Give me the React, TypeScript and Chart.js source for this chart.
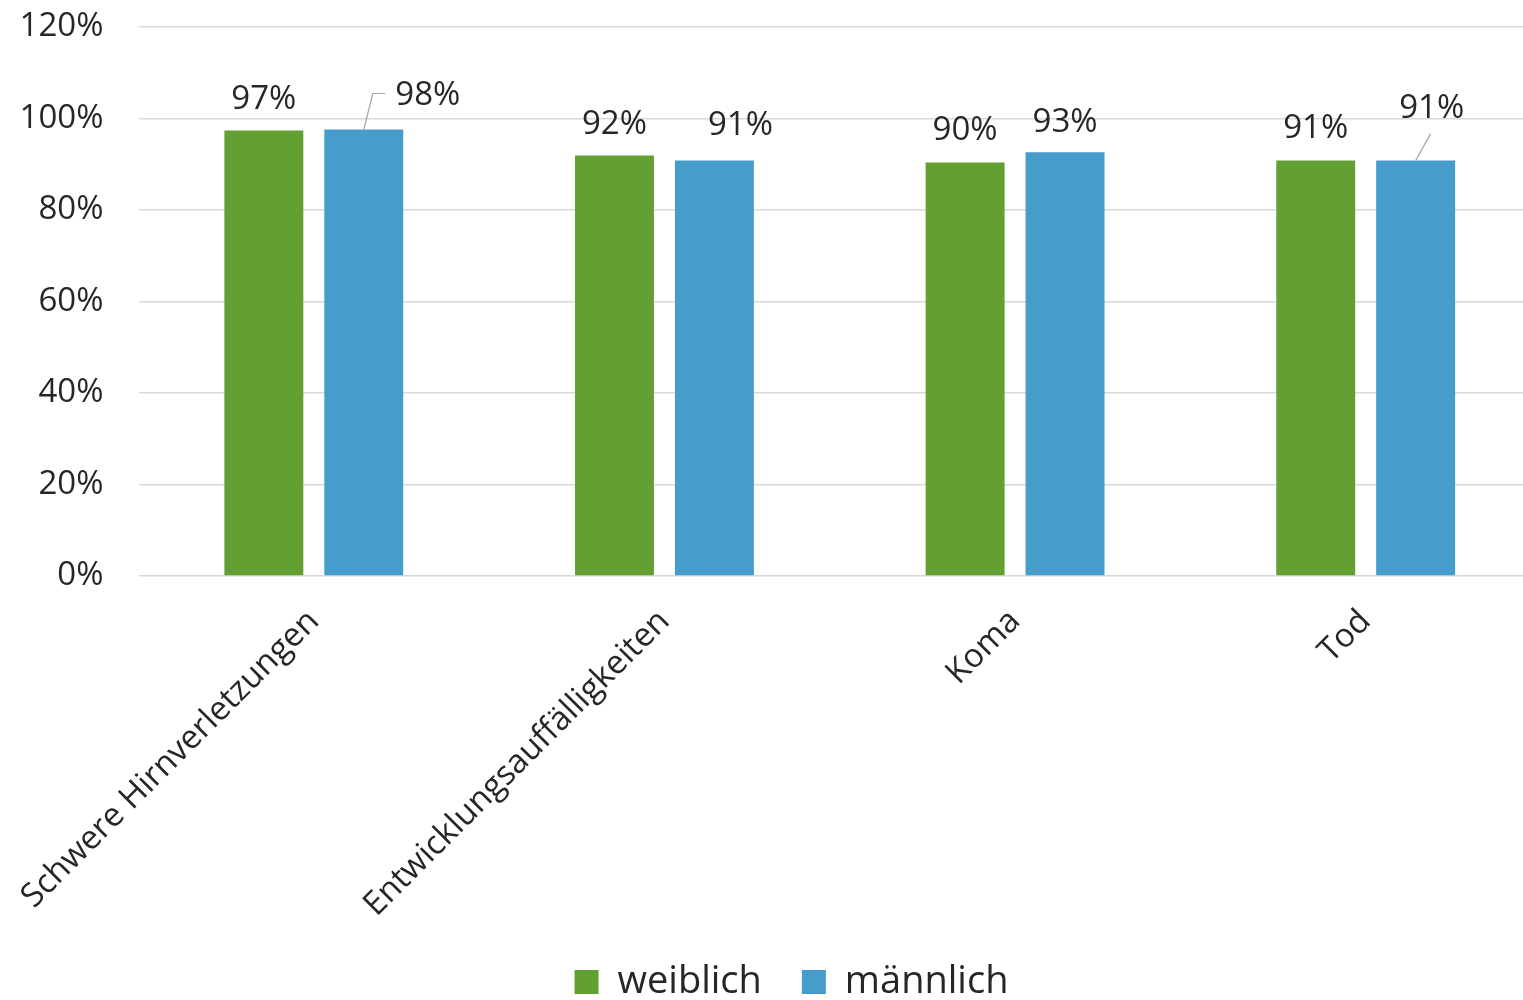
import React, { useEffect, useRef } from "react";
import { Chart, registerables } from "chart.js";

Chart.register(...registerables);

const categories = ["Schwere Hirnverletzungen", "Entwicklungsauffälligkeiten", "Koma", "Tod"];
const weiblich = [97.4, 91.9, 90.4, 90.8];
const maennlich = [97.6, 90.8, 92.6, 90.8];
const seriesNames = ["weiblich", "männlich"];
const yTicks = [0, 20, 40, 60, 80, 100, 120];

const GREEN = "#62a033";
const BLUE = "#469cca";
const TEXT = "#262626";
const FONT = "'Open Sans', 'Noto Sans', sans-serif";

// label placement (style only): offsets from bar top-centre
const labelDx = [
  [0, 0, 0, 0],
  [64, 26, 0, 16],
];
const labelDy = [
  [-31, -31, -32, -32],
  [-34, -35, -30, -52],
];
const leader = [
  [false, false, false, false],
  [true, false, false, true],
];

const labelPlugin = {
  id: "barLabels",
  afterLayout(chart: any) {
    // let rotated category labels run below the axis box, shift legend like the original
    if (chart.scales.x) chart.scales.x.bottom = chart.height;
    if (chart.legend) {
      chart.legend.left += 21;
      chart.legend.right += 21;
    }
  },
  afterDatasetsDraw(chart: any) {
    const ctx = chart.ctx;
    ctx.save();
    ctx.font = `33px ${FONT}`;
    ctx.fillStyle = TEXT;
    ctx.textAlign = "center";
    ctx.textBaseline = "middle";
    chart.data.datasets.forEach((ds: any, di: number) => {
      const meta = chart.getDatasetMeta(di);
      meta.data.forEach((el: any, i: number) => {
        const v = ds.data[i];
        const txt = Math.round(v) + "%";
        const x = el.x + labelDx[di][i];
        const y = el.y + labelDy[di][i];
        if (leader[di][i]) {
          ctx.strokeStyle = "#a6a6a6";
          ctx.lineWidth = 1.2;
          ctx.beginPath();
          if (labelDx[di][i] > 40) {
            const w = ctx.measureText(txt).width;
            const lx = x - w / 2 - 10;
            ctx.moveTo(el.x, el.y);
            ctx.lineTo(el.x + 9, y - 2);
            ctx.lineTo(lx, y - 2);
          } else {
            ctx.moveTo(el.x, el.y);
            ctx.lineTo(el.x + 15, el.y - 27);
          }
          ctx.stroke();
        }
        ctx.fillText(txt, x, y);
      });
    });
    ctx.restore();
  },
};

export default function App() {
  const ref = useRef<HTMLCanvasElement>(null);
  useEffect(() => {
    if (!ref.current) return;
    const chart = new Chart(ref.current, {
      type: "bar",
      data: {
        labels: categories,
        datasets: [
          {
            label: seriesNames[0],
            data: weiblich,
            backgroundColor: GREEN,
            barPercentage: 0.79,
            categoryPercentage: 0.57,
          },
          {
            label: seriesNames[1],
            data: maennlich,
            backgroundColor: BLUE,
            barPercentage: 0.79,
            categoryPercentage: 0.57,
          },
        ],
      },
      options: {
        responsive: false,
        animation: false,
        layout: { padding: { top: 27, right: 4, left: 0, bottom: -11 } },
        plugins: {
          tooltip: { enabled: false },
          legend: {
            position: "bottom",
            labels: {
              font: { family: FONT, size: 38 },
              color: TEXT,
              boxWidth: 24,
              boxHeight: 24,
              padding: 40,
            },
          },
        },
        scales: {
          x: {
            grid: { display: false },
            border: { display: false },
            ticks: {
              minRotation: 45,
              maxRotation: 45,
              color: TEXT,
              font: { family: FONT, size: 33 },
              padding: 18,
            },
            afterFit: (s: any) => {
              s.height = 347;
              s.paddingLeft = 0;
              s.paddingRight = 0;
            },
          },
          y: {
            min: 0,
            max: 120,
            afterBuildTicks: (s: any) => {
              s.ticks = yTicks.map((v) => ({ value: v }));
            },
            grid: { color: "#d9d9d9", lineWidth: 1.5, drawTicks: false },
            border: { display: false },
            ticks: {
              color: TEXT,
              font: { family: FONT, size: 33 },
              padding: 35,
              callback: (v: any) => v + "%",
            },
            afterFit: (s: any) => {
              s.width = 138.5;
              s.paddingTop = 0;
              s.paddingBottom = 0;
            },
          },
        },
      },
      plugins: [labelPlugin],
    });
    return () => chart.destroy();
  }, []);
  return (
    <div style={{ position: "absolute", left: 0, top: 0, width: 1523, height: 1000, overflow: "hidden", background: "#fff" }}>
      <canvas ref={ref} width={1545} height={1000} style={{ display: "block" }} />
    </div>
  );
}
